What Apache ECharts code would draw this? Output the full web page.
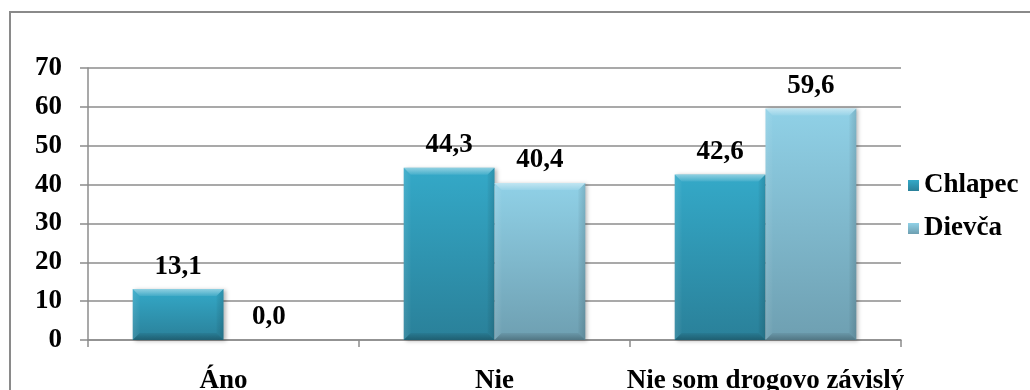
<!DOCTYPE html>
<html>
<head>
<meta charset="utf-8">
<script src="https://cdn.jsdelivr.net/npm/echarts@6/dist/echarts.min.js"></script>
<style>
  html, body { margin: 0; padding: 0; background: #fff; }
  #chart { width: 1030px; height: 390px; }
</style>
</head>
<body>
<div id="chart"></div>
<script>
// Answers to the question, by gender (percent)
const categories = ['Áno', 'Nie', 'Nie som drogovo závislý'];
const chlapec = [13.1, 44.3, 42.6];
const dievca = [0.0, 40.4, 59.6];
const seriesNames = ['Chlapec', 'Dievča'];

const FONT = '"Liberation Serif", "Times New Roman", serif';
const GRID_COLOR = '#8c8c8c';
const CAT_GAP = 0.33;

const fmt = v => v.toFixed(1).replace('.', ',');

function grad(top, bottom) {
  return new echarts.graphic.LinearGradient(0, 0, 0, 1, [
    { offset: 0, color: top },
    { offset: 1, color: bottom }
  ]);
}

// Soft bevelled edges drawn over each bar, positioned from the category scale
function bevel(slot) {
  return function (params, api) {
    const ci = api.value(0);
    const v = api.value(1);
    const top = api.coord([ci, v]);
    const base = api.coord([ci, 0]);
    const bandW = api.size([1, 0])[0];
    const w = bandW * (1 - CAT_GAP) / 2;
    const x0 = top[0] - w + slot * w;
    const x1 = x0 + w;
    const y0 = top[1];
    const y1 = base[1];
    const h = y1 - y0;
    if (h < 2) return null;
    const b = Math.min(7, h / 2, w / 2);
    const poly = (pts, fill) => ({ type: 'polygon', shape: { points: pts }, style: { fill: fill }, silent: true });
    const fade = (x0_, y0_, x1_, y1_, c0, c1) => new echarts.graphic.LinearGradient(x0_, y0_, x1_, y1_, [
      { offset: 0, color: c0 }, { offset: 1, color: c1 }
    ]);
    return {
      type: 'group',
      children: [
        poly([[x0, y0], [x1, y0], [x1 - b, y0 + b], [x0 + b, y0 + b]],
          fade(0, 0, 0, 1, 'rgba(255,255,255,0.45)', 'rgba(255,255,255,0.08)')),
        poly([[x0, y0], [x0 + b, y0 + b], [x0 + b, y1 - b], [x0, y1]],
          fade(0, 0, 1, 0, 'rgba(255,255,255,0.10)', 'rgba(255,255,255,0.02)')),
        poly([[x1, y0], [x1 - b, y0 + b], [x1 - b, y1 - b], [x1, y1]],
          fade(1, 0, 0, 0, 'rgba(0,0,0,0.14)', 'rgba(0,0,0,0.03)')),
        poly([[x0, y1], [x1, y1], [x1 - b, y1 - b], [x0 + b, y1 - b]],
          fade(0, 1, 0, 0, 'rgba(0,0,0,0.26)', 'rgba(0,0,0,0.06)'))
      ]
    };
  };
}

const labelStyle = {
  show: true,
  position: 'top',
  distance: 9,
  fontFamily: FONT,
  fontWeight: 'bold',
  fontSize: 27,
  color: '#000',
  formatter: p => fmt(p.value)
};

const chart = echarts.init(document.getElementById('chart'), null, { renderer: 'canvas' });

chart.setOption({
  animation: false,
  backgroundColor: '#fff',
  graphic: [{
    type: 'rect',
    shape: { x: 10, y: 12, width: 1200, height: 600 },
    style: { fill: 'none', stroke: '#8a8a8a', lineWidth: 2 },
    silent: true,
    z: 100
  }],
  grid: { left: 88, right: 129, top: 68, bottom: 50, outerBoundsMode: 'none', containLabel: false },
  legend: {
    data: seriesNames,
    orient: 'vertical',
    left: 903,
    top: 167,
    itemWidth: 11,
    itemHeight: 11,
    itemGap: 16,
    icon: 'rect',
    textStyle: { fontFamily: FONT, fontWeight: 'bold', fontSize: 27, color: '#000', padding: [0, 0, 0, 0] }
  },
  xAxis: {
    type: 'category',
    data: categories,
    boundaryGap: true,
    axisLine: { show: true, lineStyle: { color: GRID_COLOR, width: 1.5 } },
    axisTick: { show: true, length: 7, lineStyle: { color: GRID_COLOR, width: 1.5 } },
    axisLabel: {
      interval: 0,
      margin: 28,
      fontFamily: FONT,
      fontWeight: 'bold',
      fontSize: 27,
      color: '#000'
    }
  },
  yAxis: {
    type: 'value',
    min: 0,
    max: 70,
    interval: 10,
    axisLine: { show: true, lineStyle: { color: GRID_COLOR, width: 1.5 } },
    axisTick: { show: true, length: 8, lineStyle: { color: GRID_COLOR, width: 1.5 } },
    splitLine: { show: true, lineStyle: { color: GRID_COLOR, width: 1.5 } },
    axisLabel: {
      margin: 26,
      fontFamily: FONT,
      fontWeight: 'bold',
      fontSize: 27,
      color: '#000'
    }
  },
  series: [
    {
      name: seriesNames[0],
      type: 'bar',
      data: chlapec,
      barGap: '0%',
      barCategoryGap: (CAT_GAP * 100) + '%',
      itemStyle: {
        color: grad('#34a9c8', '#2a8099'),
        shadowColor: 'rgba(0,0,0,0.28)',
        shadowBlur: 4,
        shadowOffsetX: 2,
        shadowOffsetY: 1
      },
      label: labelStyle,
      z: 2
    },
    {
      name: seriesNames[1],
      type: 'bar',
      data: dievca,
      itemStyle: {
        color: grad('#90d1e7', '#6e9fb1'),
        shadowColor: 'rgba(0,0,0,0.28)',
        shadowBlur: 4,
        shadowOffsetX: 2,
        shadowOffsetY: 1
      },
      label: labelStyle,
      z: 2
    },
    {
      type: 'custom',
      name: 'bevel-0',
      renderItem: bevel(0),
      data: chlapec.map((v, i) => [i, v]),
      silent: true,
      z: 3
    },
    {
      type: 'custom',
      name: 'bevel-1',
      renderItem: bevel(1),
      data: dievca.map((v, i) => [i, v]),
      silent: true,
      z: 3
    }
  ]
});
</script>
</body>
</html>
